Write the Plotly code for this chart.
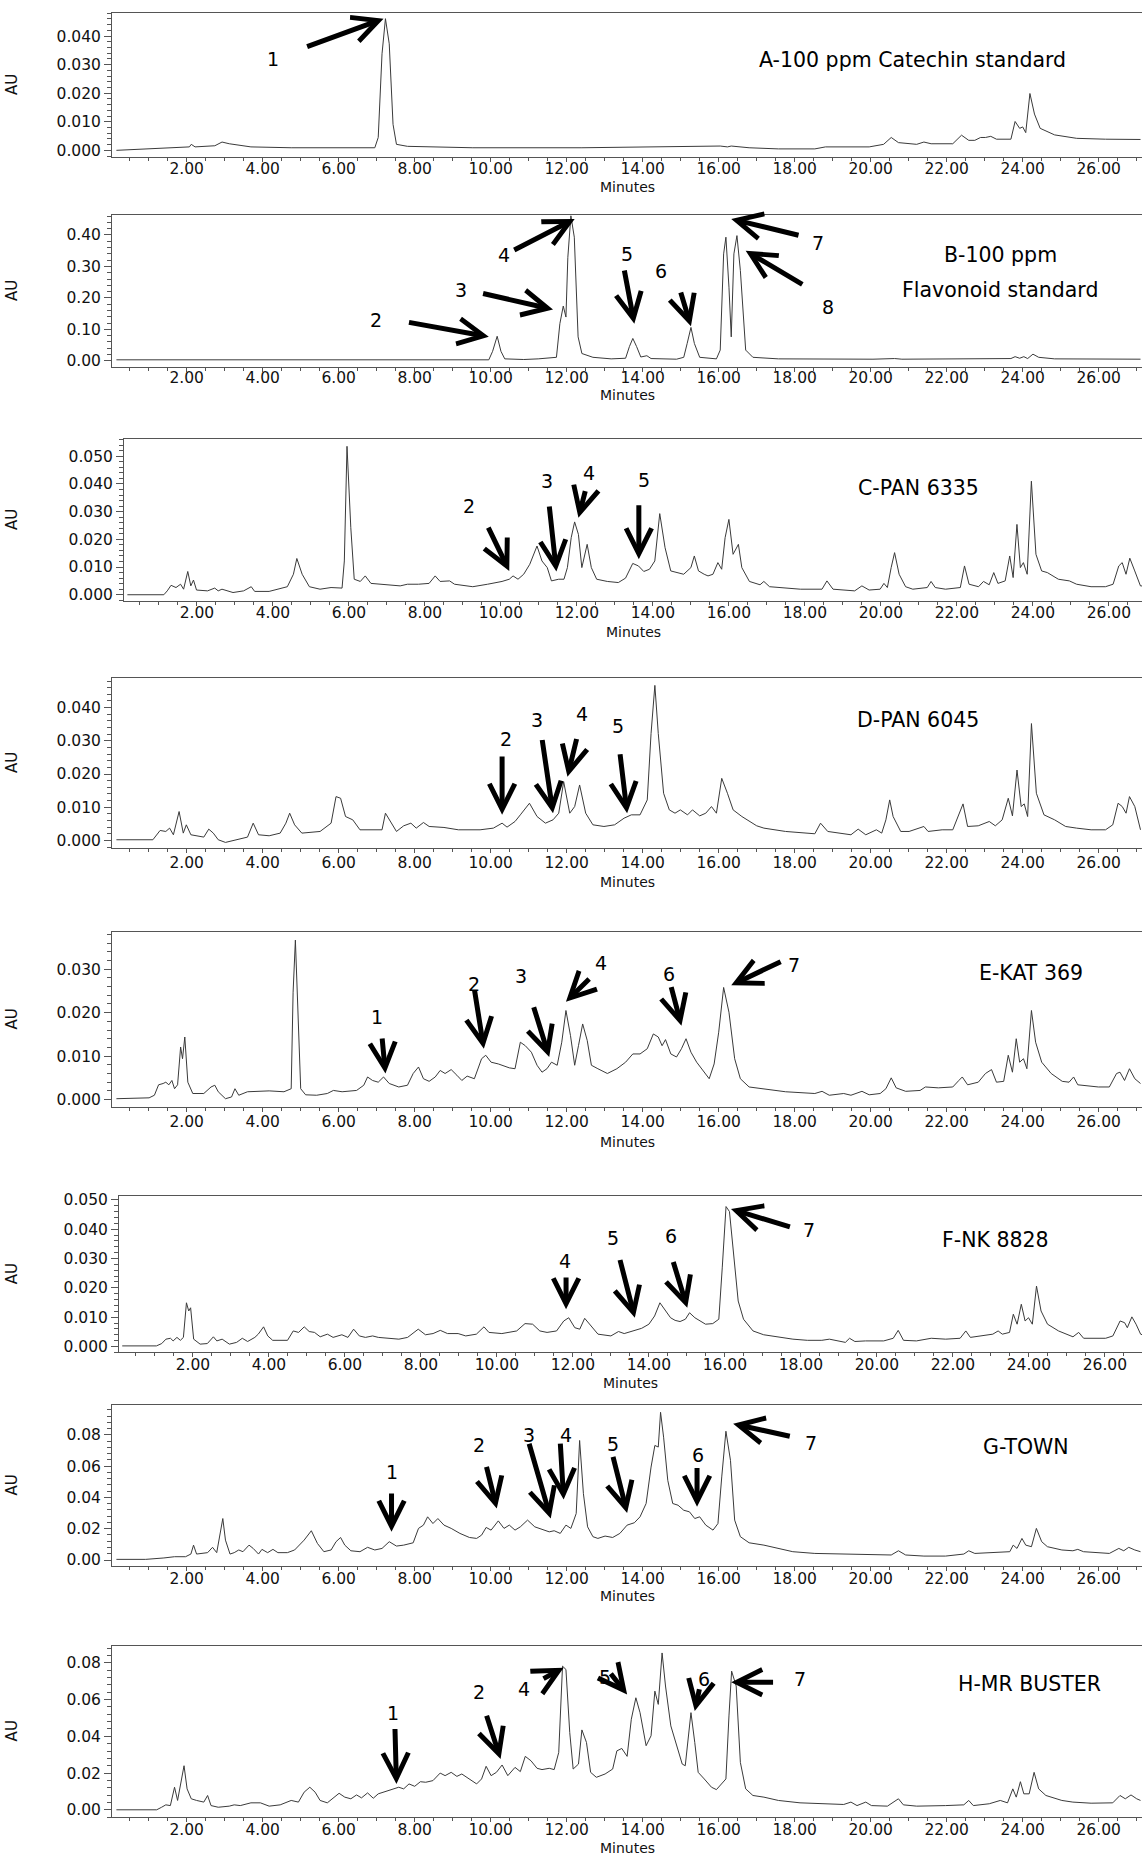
import plotly.graph_objects as go

W, H = 1142, 1857

# ---------------- DATA (minutes, AU) ----------------
A_POINTS = [(0.15,0.0000),(1.49,0.0007),(2.07,0.0012),(2.12,0.0021),(2.22,0.0012),(2.74,0.0016),(2.93,0.0029),
 (3.12,0.0023),(3.69,0.0012),(4.75,0.0009),(6.95,0.0009),(7.04,0.0045),(7.14,0.0338),(7.23,0.0461),(7.33,0.0373),
 (7.43,0.0091),(7.52,0.0021),(7.81,0.0014),(9.53,0.0009),(12.40,0.0009),(14.32,0.0013),(16.04,0.0015),(16.23,0.0012),
 (16.33,0.0015),(16.80,0.0009),(17.57,0.0005),(18.53,0.0005),(18.81,0.0012),(19.96,0.0012),(20.34,0.0021),(20.54,0.0045),
 (20.73,0.0027),(21.21,0.0021),(21.40,0.0029),(21.59,0.0023),(22.16,0.0023),(22.39,0.0053),(22.58,0.0035),(22.74,0.0035),
 (22.89,0.0045),(23.02,0.0045),(23.16,0.0049),(23.31,0.0039),(23.69,0.0039),(23.80,0.0101),(23.92,0.0077),(24.00,0.0082),
 (24.08,0.0062),(24.19,0.0199),(24.31,0.0127),(24.46,0.0077),(24.84,0.0054),(25.42,0.0042),(26.18,0.0039),(27.10,0.0038)]

B_POINTS = [(0.15,0.003),(2.80,0.003),(2.90,0.005),(3.00,0.003),(9.95,0.003),(10.05,0.030),(10.17,0.078),(10.27,0.030),
 (10.37,0.006),(10.87,0.004),(11.25,0.006),(11.73,0.011),(11.82,0.118),(11.91,0.174),(11.98,0.139),(12.03,0.329),
 (12.11,0.461),(12.20,0.393),(12.30,0.076),(12.40,0.023),(12.69,0.011),(13.17,0.006),(13.55,0.008),(13.65,0.045),
 (13.74,0.071),(13.84,0.045),(13.95,0.012),(14.11,0.016),(14.22,0.007),(14.89,0.005),(15.08,0.011),(15.17,0.055),
 (15.27,0.106),(15.36,0.055),(15.50,0.011),(15.94,0.006),(16.04,0.034),(16.13,0.340),(16.19,0.393),(16.27,0.234),
 (16.33,0.076),(16.40,0.340),(16.48,0.398),(16.57,0.287),(16.71,0.034),(16.90,0.011),(17.57,0.006),(20.06,0.005),
 (20.63,0.007),(20.82,0.005),(23.69,0.007),(23.80,0.013),(23.92,0.008),(24.03,0.013),(24.13,0.007),(24.27,0.021),
 (24.42,0.011),(24.84,0.006),(27.10,0.005)]

C_POINTS = [(0.17,0.0000),(1.13,0.0000),(1.22,0.0014),(1.32,0.0034),(1.45,0.0026),(1.57,0.0038),(1.65,0.0020),(1.76,0.0084),
 (1.84,0.0032),(1.91,0.0053),(1.99,0.0017),(2.28,0.0014),(2.47,0.0024),(2.56,0.0014),(2.66,0.0020),(2.95,0.0008),
 (3.23,0.0014),(3.43,0.0029),(3.52,0.0012),(3.90,0.0012),(4.38,0.0029),(4.54,0.0074),(4.63,0.0131),(4.77,0.0074),
 (4.96,0.0029),(5.24,0.0020),(5.53,0.0026),(5.82,0.0024),(5.88,0.0122),(5.95,0.0536),(6.05,0.0242),(6.14,0.0056),
 (6.30,0.0048),(6.43,0.0068),(6.58,0.0041),(6.97,0.0036),(7.35,0.0032),(7.54,0.0038),(7.83,0.0038),(8.11,0.0041),
 (8.27,0.0068),(8.40,0.0048),(8.65,0.0050),(8.78,0.0038),(9.26,0.0029),(9.65,0.0038),(10.03,0.0048),(10.22,0.0056),
 (10.32,0.0068),(10.45,0.0056),(10.60,0.0074),(10.76,0.0110),(10.95,0.0176),(11.08,0.0122),(11.22,0.0098),(11.33,0.0050),
 (11.52,0.0056),(11.66,0.0056),(11.75,0.0098),(11.85,0.0206),(11.94,0.0263),(12.04,0.0218),(12.13,0.0098),(12.27,0.0182),
 (12.38,0.0098),(12.52,0.0056),(12.80,0.0048),(13.09,0.0044),(13.28,0.0060),(13.47,0.0113),(13.62,0.0104),(13.76,0.0084),
 (13.91,0.0092),(14.05,0.0122),(14.18,0.0293),(14.32,0.0170),(14.47,0.0086),(14.81,0.0074),(15.00,0.0098),(15.09,0.0140),
 (15.20,0.0086),(15.35,0.0074),(15.45,0.0068),(15.58,0.0074),(15.71,0.0116),(15.81,0.0092),(15.90,0.0206),(16.00,0.0272),
 (16.11,0.0146),(16.25,0.0182),(16.34,0.0098),(16.54,0.0048),(16.82,0.0036),(16.92,0.0048),(17.07,0.0029),(17.88,0.0020),
 (18.45,0.0020),(18.58,0.0050),(18.74,0.0020),(19.31,0.0014),(19.50,0.0032),(19.69,0.0017),(19.98,0.0020),(20.08,0.0041),
 (20.17,0.0026),(20.27,0.0098),(20.36,0.0152),(20.48,0.0074),(20.65,0.0029),(20.84,0.0020),(21.22,0.0026),(21.32,0.0048),
 (21.43,0.0026),(21.70,0.0020),(22.09,0.0026),(22.20,0.0104),(22.32,0.0038),(22.57,0.0029),(22.70,0.0048),(22.85,0.0036),
 (22.97,0.0080),(23.08,0.0041),(23.27,0.0050),(23.39,0.0140),(23.48,0.0062),(23.58,0.0254),(23.67,0.0098),(23.75,0.0116),
 (23.85,0.0074),(23.96,0.0410),(24.08,0.0146),(24.23,0.0086),(24.38,0.0080),(24.67,0.0056),(24.96,0.0050),(25.15,0.0038),
 (25.53,0.0029),(25.91,0.0029),(26.11,0.0038),(26.26,0.0104),(26.35,0.0116),(26.45,0.0074),(26.55,0.0132),(26.68,0.0086),
 (26.83,0.0032),(27.10,0.0030)]

D_POINTS = [(0.15,0.0002),(1.11,0.0002),(1.30,0.0030),(1.45,0.0027),(1.55,0.0037),(1.65,0.0017),(1.80,0.0087),(1.91,0.0022),
 (1.99,0.0047),(2.11,0.0017),(2.45,0.0010),(2.58,0.0034),(2.70,0.0022),(2.83,0.0002),(3.02,-0.0006),(3.31,0.0002),
 (3.60,0.0010),(3.75,0.0052),(3.89,0.0017),(4.17,0.0014),(4.46,0.0022),(4.61,0.0052),(4.71,0.0082),(4.84,0.0047),
 (5.03,0.0022),(5.51,0.0027),(5.80,0.0052),(5.93,0.0132),(6.05,0.0127),(6.18,0.0072),(6.37,0.0062),(6.56,0.0032),
 (7.14,0.0032),(7.23,0.0082),(7.39,0.0052),(7.52,0.0027),(7.71,0.0044),(7.90,0.0052),(8.04,0.0037),(8.23,0.0054),
 (8.38,0.0042),(8.77,0.0039),(9.15,0.0032),(9.72,0.0032),(10.07,0.0037),(10.30,0.0052),(10.43,0.0040),(10.64,0.0057),
 (10.78,0.0077),(11.02,0.0112),(11.22,0.0072),(11.44,0.0052),(11.64,0.0062),(11.79,0.0082),(11.92,0.0177),(12.08,0.0082),
 (12.21,0.0102),(12.34,0.0167),(12.50,0.0082),(12.69,0.0047),(12.98,0.0042),(13.26,0.0047),(13.51,0.0067),(13.70,0.0077),
 (13.93,0.0077),(14.12,0.0122),(14.22,0.0322),(14.32,0.0467),(14.41,0.0322),(14.55,0.0142),(14.70,0.0092),(14.85,0.0082),
 (14.99,0.0092),(15.18,0.0077),(15.31,0.0092),(15.50,0.0074),(15.66,0.0082),(15.81,0.0102),(15.94,0.0082),(16.08,0.0187),
 (16.23,0.0142),(16.38,0.0092),(16.61,0.0072),(17.00,0.0044),(17.19,0.0037),(17.76,0.0027),(18.53,0.0020),(18.68,0.0052),
 (18.87,0.0027),(19.48,0.0017),(19.67,0.0034),(19.87,0.0017),(20.15,0.0032),(20.29,0.0022),(20.40,0.0062),(20.50,0.0122),
 (20.59,0.0072),(20.79,0.0027),(21.01,0.0027),(21.40,0.0042),(21.51,0.0027),(21.88,0.0032),(22.16,0.0032),(22.32,0.0077),
 (22.43,0.0110),(22.55,0.0042),(22.83,0.0044),(23.12,0.0057),(23.28,0.0044),(23.46,0.0062),(23.62,0.0127),(23.73,0.0074),
 (23.85,0.0212),(23.96,0.0102),(24.04,0.0110),(24.13,0.0072),(24.23,0.0352),(24.36,0.0142),(24.56,0.0077),(24.84,0.0062),
 (25.13,0.0042),(25.42,0.0037),(25.80,0.0032),(26.18,0.0032),(26.37,0.0047),(26.51,0.0112),(26.62,0.0102),(26.72,0.0082),
 (26.81,0.0132),(26.95,0.0102),(27.10,0.0032)]

E_POINTS = [(0.15,0.0002),(1.01,0.0004),(1.15,0.0010),(1.26,0.0034),(1.38,0.0037),(1.45,0.0040),(1.53,0.0034),(1.61,0.0044),
 (1.68,0.0025),(1.76,0.0034),(1.84,0.0121),(1.89,0.0094),(1.95,0.0144),(2.03,0.0040),(2.16,0.0014),(2.45,0.0014),
 (2.64,0.0029),(2.74,0.0033),(2.83,0.0018),(3.02,0.0002),(3.18,0.0006),(3.27,0.0025),(3.37,0.0010),(3.60,0.0018),
 (4.17,0.0020),(4.56,0.0018),(4.75,0.0025),(4.80,0.0247),(4.86,0.0367),(4.92,0.0208),(5.00,0.0025),(5.13,0.0011),
 (5.42,0.0010),(5.70,0.0014),(5.86,0.0021),(6.09,0.0018),(6.47,0.0021),(6.66,0.0033),(6.76,0.0052),(6.89,0.0044),
 (7.04,0.0040),(7.18,0.0052),(7.33,0.0037),(7.58,0.0029),(7.81,0.0033),(7.96,0.0060),(8.10,0.0075),(8.23,0.0048),
 (8.38,0.0042),(8.54,0.0052),(8.67,0.0067),(8.80,0.0060),(8.96,0.0069),(9.11,0.0056),(9.24,0.0044),(9.38,0.0054),
 (9.57,0.0048),(9.76,0.0094),(9.87,0.0102),(10.01,0.0086),(10.20,0.0082),(10.49,0.0073),(10.64,0.0071),(10.78,0.0132),
 (10.91,0.0124),(11.07,0.0109),(11.22,0.0079),(11.35,0.0063),(11.48,0.0071),(11.60,0.0086),(11.75,0.0079),(11.87,0.0132),
 (11.98,0.0205),(12.10,0.0147),(12.21,0.0079),(12.31,0.0124),(12.42,0.0174),(12.54,0.0136),(12.65,0.0079),(12.82,0.0071),
 (13.07,0.0060),(13.32,0.0071),(13.55,0.0086),(13.74,0.0105),(13.93,0.0105),(14.12,0.0117),(14.28,0.0151),(14.41,0.0144),
 (14.51,0.0124),(14.60,0.0138),(14.74,0.0105),(14.89,0.0098),(15.02,0.0117),(15.14,0.0140),(15.27,0.0109),(15.42,0.0086),
 (15.61,0.0063),(15.75,0.0048),(15.88,0.0082),(16.00,0.0155),(16.13,0.0258),(16.27,0.0201),(16.42,0.0094),(16.57,0.0048),
 (16.80,0.0029),(17.19,0.0025),(17.76,0.0018),(18.53,0.0014),(18.72,0.0019),(18.91,0.0010),(19.29,0.0014),(19.48,0.0010),
 (19.77,0.0019),(19.96,0.0011),(20.25,0.0014),(20.40,0.0025),(20.54,0.0050),(20.67,0.0027),(20.92,0.0019),(21.30,0.0021),
 (21.44,0.0029),(21.78,0.0027),(22.16,0.0029),(22.32,0.0044),(22.41,0.0052),(22.55,0.0034),(22.83,0.0040),(23.02,0.0060),
 (23.18,0.0069),(23.31,0.0040),(23.50,0.0042),(23.62,0.0102),(23.73,0.0063),(23.83,0.0140),(23.92,0.0086),(24.02,0.0094),
 (24.11,0.0071),(24.23,0.0205),(24.34,0.0132),(24.50,0.0086),(24.75,0.0060),(25.04,0.0042),(25.22,0.0040),(25.34,0.0052),
 (25.45,0.0034),(25.99,0.0029),(26.28,0.0029),(26.47,0.0060),(26.56,0.0063),(26.68,0.0044),(26.81,0.0071),(26.95,0.0048),
 (27.10,0.0037)]

F_POINTS = [(0.14,0.0002),(1.04,0.0002),(1.18,0.0010),(1.29,0.0025),(1.41,0.0028),(1.48,0.0019),(1.58,0.0031),(1.67,0.0021),
 (1.75,0.0031),(1.83,0.0149),(1.89,0.0121),(1.94,0.0132),(2.02,0.0025),(2.19,0.0008),(2.38,0.0010),(2.54,0.0033),
 (2.63,0.0019),(2.77,0.0025),(2.96,0.0008),(3.15,0.0014),(3.30,0.0028),(3.44,0.0017),(3.63,0.0031),(3.72,0.0042),
 (3.86,0.0067),(3.97,0.0036),(4.10,0.0021),(4.49,0.0021),(4.64,0.0053),(4.78,0.0048),(4.93,0.0067),(5.06,0.0051),
 (5.20,0.0048),(5.35,0.0033),(5.54,0.0042),(5.69,0.0031),(5.92,0.0040),(6.08,0.0031),(6.23,0.0059),(6.38,0.0036),
 (6.54,0.0031),(6.73,0.0036),(6.88,0.0031),(7.11,0.0028),(7.42,0.0025),(7.65,0.0031),(7.93,0.0059),(8.12,0.0040),
 (8.32,0.0044),(8.51,0.0055),(8.70,0.0044),(8.98,0.0044),(9.18,0.0036),(9.46,0.0042),(9.66,0.0067),(9.79,0.0048),
 (10.13,0.0044),(10.52,0.0053),(10.74,0.0078),(10.94,0.0076),(11.13,0.0053),(11.32,0.0048),(11.57,0.0053),(11.76,0.0087),
 (11.89,0.0098),(12.05,0.0064),(12.18,0.0059),(12.31,0.0096),(12.47,0.0070),(12.66,0.0042),(13.00,0.0036),(13.20,0.0051),
 (13.35,0.0044),(13.58,0.0053),(13.81,0.0062),(14.00,0.0076),(14.15,0.0104),(14.29,0.0149),(14.44,0.0121),(14.57,0.0098),
 (14.69,0.0089),(14.82,0.0085),(14.96,0.0093),(15.07,0.0115),(15.21,0.0098),(15.34,0.0087),(15.49,0.0076),(15.68,0.0078),
 (15.84,0.0093),(15.93,0.0268),(16.03,0.0477),(16.12,0.0460),(16.22,0.0325),(16.35,0.0155),(16.49,0.0093),(16.74,0.0053),
 (17.02,0.0040),(17.40,0.0033),(17.79,0.0025),(18.17,0.0021),(18.55,0.0021),(18.75,0.0025),(18.94,0.0019),(19.17,0.0014),
 (19.28,0.0028),(19.42,0.0017),(19.70,0.0019),(20.18,0.0019),(20.43,0.0028),(20.56,0.0055),(20.70,0.0021),(21.04,0.0019),
 (21.43,0.0028),(21.81,0.0025),(22.19,0.0028),(22.34,0.0053),(22.46,0.0031),(22.76,0.0036),(23.05,0.0042),(23.19,0.0053),
 (23.30,0.0042),(23.49,0.0048),(23.59,0.0110),(23.69,0.0076),(23.80,0.0144),(23.90,0.0087),(23.99,0.0098),(24.09,0.0076),
 (24.20,0.0206),(24.32,0.0121),(24.49,0.0076),(24.78,0.0053),(25.16,0.0033),(25.31,0.0048),(25.44,0.0028),(26.02,0.0028),
 (26.21,0.0036),(26.40,0.0087),(26.52,0.0081),(26.59,0.0064),(26.71,0.0101),(26.82,0.0076),(26.94,0.0042),(27.10,0.0035)]

G_POINTS = [(0.15,0.0004),(0.92,0.0004),(1.40,0.0013),(1.68,0.0021),(1.97,0.0021),(2.11,0.0038),(2.18,0.0095),(2.26,0.0038),
 (2.55,0.0047),(2.68,0.0081),(2.79,0.0047),(2.89,0.0170),(2.95,0.0265),(3.02,0.0127),(3.14,0.0038),(3.25,0.0047),
 (3.37,0.0064),(3.48,0.0053),(3.64,0.0095),(3.75,0.0074),(3.89,0.0038),(3.98,0.0068),(4.13,0.0047),(4.27,0.0068),
 (4.40,0.0047),(4.65,0.0047),(4.84,0.0064),(5.09,0.0127),(5.28,0.0187),(5.44,0.0106),(5.61,0.0053),(5.80,0.0064),
 (5.93,0.0117),(6.05,0.0144),(6.16,0.0095),(6.32,0.0059),(6.56,0.0053),(6.76,0.0081),(6.95,0.0064),(7.14,0.0074),
 (7.33,0.0117),(7.52,0.0089),(7.71,0.0095),(7.96,0.0110),(8.10,0.0202),(8.23,0.0223),(8.34,0.0276),(8.48,0.0233),
 (8.61,0.0265),(8.77,0.0223),(8.96,0.0202),(9.19,0.0170),(9.44,0.0144),(9.63,0.0138),(9.76,0.0159),(9.88,0.0208),
 (10.01,0.0191),(10.20,0.0250),(10.35,0.0202),(10.49,0.0223),(10.64,0.0191),(10.78,0.0212),(10.97,0.0255),(11.16,0.0212),
 (11.35,0.0195),(11.54,0.0180),(11.67,0.0187),(11.83,0.0170),(11.98,0.0223),(12.11,0.0202),(12.25,0.0297),(12.34,0.0764),
 (12.44,0.0424),(12.55,0.0212),(12.69,0.0149),(12.82,0.0138),(13.01,0.0153),(13.21,0.0144),(13.40,0.0170),(13.59,0.0223),
 (13.78,0.0238),(13.93,0.0276),(14.09,0.0361),(14.22,0.0594),(14.32,0.0732),(14.41,0.0722),(14.47,0.0944),(14.55,0.0785),
 (14.66,0.0509),(14.79,0.0361),(14.93,0.0350),(15.08,0.0318),(15.23,0.0308),(15.37,0.0265),(15.50,0.0276),(15.66,0.0223),
 (15.85,0.0191),(15.98,0.0233),(16.08,0.0531),(16.19,0.0823),(16.31,0.0637),(16.42,0.0255),(16.57,0.0149),(16.80,0.0110),
 (17.19,0.0095),(17.57,0.0074),(17.95,0.0053),(18.53,0.0042),(19.29,0.0038),(20.06,0.0032),(20.54,0.0032),(20.73,0.0059),
 (20.92,0.0032),(21.40,0.0025),(21.97,0.0025),(22.45,0.0038),(22.58,0.0059),(22.74,0.0042),(23.31,0.0047),(23.66,0.0053),
 (23.75,0.0095),(23.85,0.0074),(23.98,0.0138),(24.08,0.0095),(24.23,0.0085),(24.36,0.0202),(24.50,0.0117),(24.65,0.0085),
 (25.03,0.0064),(25.32,0.0059),(25.45,0.0068),(25.60,0.0053),(26.28,0.0042),(26.53,0.0074),(26.66,0.0059),(26.79,0.0081),
 (26.95,0.0064),(27.10,0.0053)]

H_POINTS = [(0.15,0.0000),(1.21,0.0000),(1.34,0.0014),(1.45,0.0027),(1.57,0.0023),(1.68,0.0123),(1.76,0.0051),(1.88,0.0186),
 (1.93,0.0240),(2.01,0.0114),(2.12,0.0060),(2.26,0.0051),(2.45,0.0042),(2.55,0.0078),(2.64,0.0023),(2.83,0.0014),
 (3.12,0.0020),(3.25,0.0027),(3.41,0.0023),(3.69,0.0038),(3.94,0.0038),(4.17,0.0020),(4.46,0.0027),(4.75,0.0051),
 (4.94,0.0042),(5.09,0.0096),(5.24,0.0123),(5.38,0.0096),(5.51,0.0051),(5.70,0.0038),(5.86,0.0063),(6.01,0.0090),
 (6.16,0.0069),(6.32,0.0060),(6.47,0.0081),(6.60,0.0065),(6.76,0.0092),(6.91,0.0063),(7.04,0.0087),(7.23,0.0099),
 (7.43,0.0114),(7.58,0.0123),(7.71,0.0114),(7.85,0.0141),(8.00,0.0128),(8.15,0.0153),(8.29,0.0150),(8.48,0.0159),
 (8.67,0.0200),(8.80,0.0186),(8.96,0.0204),(9.11,0.0182),(9.24,0.0195),(9.44,0.0168),(9.63,0.0141),(9.76,0.0168),
 (9.88,0.0237),(10.01,0.0186),(10.15,0.0204),(10.30,0.0244),(10.45,0.0186),(10.64,0.0231),(10.78,0.0208),(10.91,0.0291),
 (11.06,0.0267),(11.22,0.0226),(11.35,0.0219),(11.54,0.0226),(11.67,0.0219),(11.79,0.0312),(11.89,0.0782),(11.98,0.0764),
 (12.08,0.0421),(12.17,0.0222),(12.31,0.0249),(12.40,0.0435),(12.52,0.0367),(12.63,0.0204),(12.78,0.0177),(13.01,0.0195),
 (13.21,0.0222),(13.32,0.0321),(13.45,0.0334),(13.59,0.0291),(13.70,0.0493),(13.82,0.0610),(13.93,0.0529),(14.09,0.0349),
 (14.22,0.0403),(14.32,0.0646),(14.41,0.0574),(14.51,0.0854),(14.60,0.0674),(14.74,0.0457),(14.89,0.0349),(15.04,0.0249),
 (15.12,0.0240),(15.20,0.0385),(15.27,0.0529),(15.37,0.0367),(15.46,0.0204),(15.62,0.0168),(15.81,0.0123),(15.94,0.0110),
 (16.08,0.0141),(16.19,0.0168),(16.27,0.0511),(16.34,0.0755),(16.46,0.0674),(16.57,0.0258),(16.71,0.0114),(16.90,0.0078),
 (17.19,0.0069),(17.57,0.0051),(18.14,0.0038),(18.91,0.0033),(19.29,0.0029),(19.48,0.0042),(19.64,0.0023),(19.87,0.0042),
 (20.02,0.0023),(20.44,0.0020),(20.59,0.0042),(20.73,0.0060),(20.86,0.0027),(21.21,0.0020),(21.97,0.0023),(22.45,0.0027),
 (22.58,0.0051),(22.70,0.0023),(23.12,0.0033),(23.41,0.0051),(23.60,0.0038),(23.74,0.0114),(23.83,0.0069),(23.94,0.0153),
 (24.03,0.0087),(24.17,0.0087),(24.30,0.0204),(24.42,0.0114),(24.61,0.0078),(25.03,0.0051),(25.32,0.0042),(25.80,0.0036),
 (26.37,0.0038),(26.56,0.0078),(26.70,0.0060),(26.85,0.0081),(27.00,0.0060),(27.10,0.0051)]

# peak labels: (text, label_x, label_y, tail_x, tail_y, head_x, head_y) in minutes / AU
A_MARKS = [("1", 4.27, 0.0320, 5.13, 0.0361, 7.18, 0.0461)]
B_MARKS = [("2", 6.99, 0.129, 7.81, 0.123, 9.95, 0.076),
           ("3", 9.21, 0.226, 9.76, 0.215, 11.64, 0.163),
           ("4", 10.35, 0.335, 10.58, 0.350, 12.21, 0.451),
           ("5", 13.59, 0.340, 13.51, 0.292, 13.78, 0.118),
           ("6", 14.47, 0.287, 14.99, 0.222, 15.27, 0.110),
           ("7", 18.62, 0.374, 18.14, 0.398, 16.33, 0.451),
           ("8", 18.87, 0.171, 18.24, 0.240, 16.71, 0.350)]
C_MARKS = [("2", 9.17, 0.0320, 9.65, 0.0248, 10.22, 0.0086),
           ("3", 11.22, 0.0410, 11.27, 0.0324, 11.46, 0.0084),
           ("4", 12.33, 0.0440, 12.23, 0.0380, 12.04, 0.0278),
           ("5", 13.76, 0.0416, 13.63, 0.0329, 13.63, 0.0128)]
D_MARKS = [("2", 10.39, 0.0307, 10.30, 0.0257, 10.30, 0.0077),
           ("3", 11.22, 0.0362, 11.35, 0.0307, 11.64, 0.0082),
           ("4", 12.40, 0.0382, 12.27, 0.0310, 12.02, 0.0192),
           ("5", 13.36, 0.0344, 13.40, 0.0264, 13.59, 0.0082)]
E_MARKS = [("1", 7.00, 0.0189, 7.14, 0.0144, 7.23, 0.0060),
           ("2", 9.57, 0.0266, 9.57, 0.0254, 9.82, 0.0117),
           ("3", 10.79, 0.0285, 11.12, 0.0216, 11.54, 0.0098),
           ("4", 12.90, 0.0315, 12.63, 0.0281, 11.98, 0.0225),
           ("6", 14.70, 0.0289, 14.74, 0.0262, 15.02, 0.0170),
           ("7", 17.99, 0.0309, 17.67, 0.0319, 16.33, 0.0263)]
F_MARKS = [("4", 11.80, 0.0293, 11.82, 0.0240, 11.82, 0.0127),
           ("5", 13.06, 0.0370, 13.23, 0.0300, 13.63, 0.0098),
           ("6", 14.59, 0.0376, 14.63, 0.0293, 15.01, 0.0132),
           ("7", 18.21, 0.0396, 17.75, 0.0406, 16.16, 0.0469)]
G_MARKS = [("1", 7.39, 0.0562, 7.39, 0.0435, 7.39, 0.0180),
           ("2", 9.68, 0.0732, 9.88, 0.0605, 10.16, 0.0329),
           ("3", 11.02, 0.0796, 11.00, 0.0753, 11.58, 0.0265),
           ("4", 11.98, 0.0796, 11.83, 0.0753, 11.92, 0.0386),
           ("5", 13.22, 0.0743, 13.21, 0.0668, 13.59, 0.0301),
           ("6", 15.46, 0.0668, 15.43, 0.0598, 15.43, 0.0340),
           ("7", 18.43, 0.0747, 17.91, 0.0789, 16.38, 0.0870)]
H_MARKS = [("1", 7.43, 0.0529, 7.48, 0.0448, 7.52, 0.0141),
           ("2", 9.68, 0.0641, 9.88, 0.0520, 10.26, 0.0276),
           ("4", 10.87, 0.0659, 11.35, 0.0710, 11.92, 0.0773),
           ("5", 13.01, 0.0724, 13.13, 0.0749, 13.59, 0.0628),
           ("6", 15.62, 0.0713, 15.50, 0.0665, 15.37, 0.0538),
           ("7", 18.14, 0.0710, 17.47, 0.0695, 16.33, 0.0695)]

# panel titles: (text, x, y)
A_TITLE = [("A-100 ppm Catechin standard", 21.11, 0.0317)]
B_TITLE = [("B-100 ppm", 23.41, 0.335), ("Flavonoid standard", 23.41, 0.226)]
C_TITLE = [("C-PAN 6335", 20.98, 0.0386)]
D_TITLE = [("D-PAN 6045", 21.24, 0.0362)]
E_TITLE = [("E-KAT 369", 24.23, 0.0292)]
F_TITLE = [("F-NK 8828", 23.11, 0.0364)]
G_TITLE = [("G-TOWN", 24.08, 0.0721)]
H_TITLE = [("H-MR BUSTER", 24.17, 0.0683)]

X_TICKS = [2, 4, 6, 8, 10, 12, 14, 16, 18, 20, 22, 24, 26]
X_TICK_TEXT = ["%.2f" % v for v in X_TICKS]

# ---------------- LAYOUT (pixel geometry of each panel) ----------------
PX_PER_MIN = 38.0
PANELS = [
    dict(pts=A_POINTS, marks=A_MARKS, titles=A_TITLE, top=8, bot=152.7, left=112, x0=110.7,
         yr=[-0.00235, 0.0481], dt=0.01, ymax=0.04, fmt="%.3f", tls=-7, mins=30),
    dict(pts=B_POINTS, marks=B_MARKS, titles=B_TITLE, top=211, bot=363.3, left=112, x0=110.7,
         yr=[-0.019, 0.4633], dt=0.1, ymax=0.4, fmt="%.2f", tls=-7, mins=28),
    dict(pts=C_POINTS, marks=C_MARKS, titles=C_TITLE, top=436, bot=598.3, left=124, x0=120.9,
         yr=[-0.00216, 0.0562], dt=0.01, ymax=0.05, fmt="%.3f", tls=-6, mins=31),
    dict(pts=D_POINTS, marks=D_MARKS, titles=D_TITLE, top=676, bot=846.7, left=112, x0=110.7,
         yr=[-0.0023, 0.0489], dt=0.01, ymax=0.04, fmt="%.3f", tls=-4, mins=34),
    dict(pts=E_POINTS, marks=E_MARKS, titles=E_TITLE, top=930.7, bot=1107, left=112, x0=110.7,
         yr=[-0.00176, 0.03863], dt=0.01, ymax=0.03, fmt="%.3f", tls=-4, mins=35),
    dict(pts=F_POINTS, marks=F_MARKS, titles=F_TITLE, top=1196, bot=1353.3, left=119, x0=116.9,
         yr=[-0.00204, 0.05136], dt=0.01, ymax=0.05, fmt="%.3f", tls=-6, mins=31),
    dict(pts=G_POINTS, marks=G_MARKS, titles=G_TITLE, top=1406, bot=1567.7, left=112, x0=110.7,
         yr=[-0.0038, 0.0991], dt=0.02, ymax=0.08, fmt="%.2f", tls=-6, mins=30),
    dict(pts=H_POINTS, marks=H_MARKS, titles=H_TITLE, top=1647.7, bot=1820, left=112, x0=110.7,
         yr=[-0.004, 0.0894], dt=0.02, ymax=0.08, fmt="%.2f", tls=-6, mins=31),
]

TICK_FONT = dict(family="DejaVu Sans", size=15.5, color="#111111")
LABEL_FONT = dict(family="DejaVu Sans", size=19, color="#000000")
TITLE_FONT = dict(family="DejaVu Sans", size=20.5, color="#000000")
AXIS_COLOR = "#555555"
LINE_COLOR = "#3a3a3a"

fig = go.Figure()
layout = dict(width=W, height=H, margin=dict(l=0, r=0, t=0, b=0), showlegend=False,
              paper_bgcolor="white", plot_bgcolor="white")
annotations = []

for i, p in enumerate(PANELS, start=1):
    sfx = "" if i == 1 else str(i)
    xa, ya = "x" + sfx, "y" + sfx
    fig.add_trace(go.Scatter(x=[q[0] for q in p["pts"]], y=[q[1] for q in p["pts"]],
                             mode="lines", line=dict(color=LINE_COLOR, width=1),
                             xaxis=xa, yaxis=ya, hoverinfo="skip"))
    xr = [(p["left"] - p["x0"]) / PX_PER_MIN, (W - p["x0"]) / PX_PER_MIN]
    nt = int(round(p["ymax"] / p["dt"]))
    yvals = [k * p["dt"] for k in range(nt + 1)]
    layout["xaxis" + sfx] = dict(
        domain=[p["left"] / W, 1.0], anchor=ya, range=xr, showgrid=False, zeroline=False,
        showline=True, linecolor=AXIS_COLOR, linewidth=1, mirror=True,
        tickmode="array", tickvals=X_TICKS, ticktext=X_TICK_TEXT, ticks="outside",
        ticklen=4, tickwidth=1, tickcolor=AXIS_COLOR, tickfont=TICK_FONT,
        ticklabelstandoff=p["tls"],
        minor=dict(tickmode="linear", tick0=0, dtick=0.5, ticks="outside", ticklen=3,
                   tickcolor=AXIS_COLOR, showgrid=False),
        fixedrange=True)
    layout["yaxis" + sfx] = dict(
        domain=[1 - p["bot"] / H, 1 - p["top"] / H], anchor=xa, range=p["yr"],
        showgrid=False, zeroline=False, showline=True, linecolor=AXIS_COLOR, linewidth=1,
        tickmode="array", tickvals=yvals, ticktext=[p["fmt"] % v for v in yvals],
        ticks="outside", ticklen=7, tickwidth=1, tickcolor=AXIS_COLOR, tickfont=TICK_FONT,
        ticklabelstandoff=0,
        minor=dict(tickmode="linear", tick0=0, dtick=p["dt"] / 5, ticks="outside", ticklen=4,
                   tickcolor=AXIS_COLOR, showgrid=False),
        fixedrange=True)
    annotations.append(dict(text="Minutes", xref=xa + " domain", yref=ya + " domain", x=0.5, y=0,
                            yshift=-p["mins"], showarrow=False, yanchor="middle",
                            font=dict(family="DejaVu Sans", size=14, color="#111111")))
    annotations.append(dict(text="AU", xref="paper", yref=ya + " domain", x=12 / W, y=0.5,
                            textangle=-90, showarrow=False, xanchor="center", yanchor="middle",
                            font=dict(family="DejaVu Sans", size=15, color="#111111")))
    for (txt, tx, ty) in p["titles"]:
        annotations.append(dict(text=txt, xref=xa, yref=ya, x=tx, y=ty, showarrow=False,
                                xanchor="center", yanchor="middle", font=TITLE_FONT))
    for (txt, lx, ly, ax, ay, hx, hy) in p["marks"]:
        annotations.append(dict(text=txt, xref=xa, yref=ya, x=lx, y=ly, showarrow=False,
                                xanchor="center", yanchor="middle", font=LABEL_FONT))
        annotations.append(dict(text="", xref=xa, yref=ya, x=hx, y=hy, axref=xa, ayref=ya,
                                ax=ax, ay=ay, showarrow=True, arrowhead=5, arrowsize=1.0,
                                arrowwidth=5, arrowcolor="#000000", standoff=0, startstandoff=0))

layout["annotations"] = annotations
fig.update_layout(**layout)

fig.write_html("out.html", config={"displayModeBar": False, "staticPlot": True},
               post_script="document.body.style.margin='0';document.body.style.overflow='hidden';")
